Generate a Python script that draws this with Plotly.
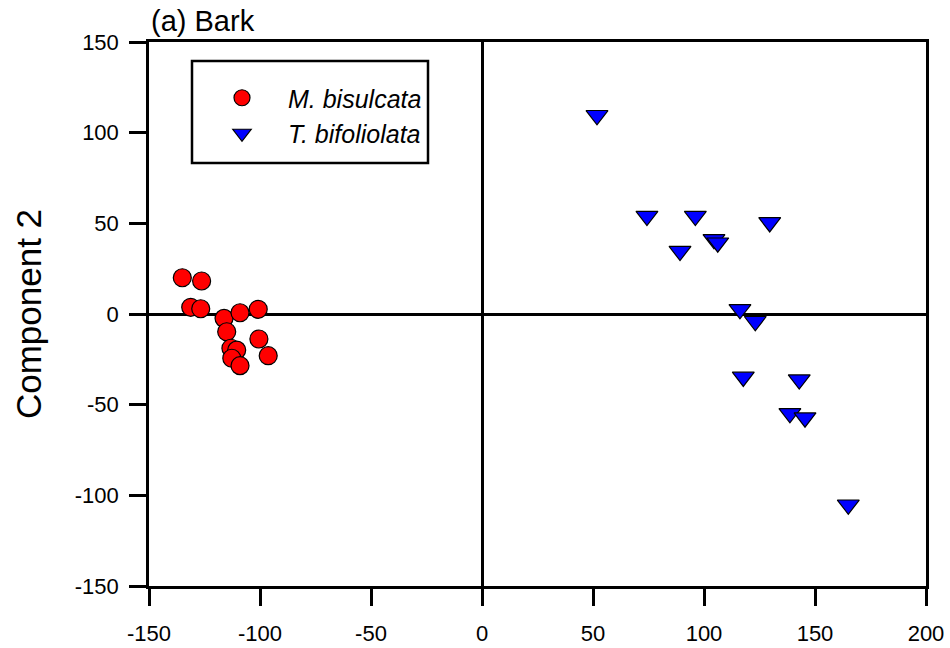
import plotly.graph_objects as go

# M. bisulcata (red circles)
mb_x = [-135.0, -126.3, -131.2, -126.7, -116.2, -109.0, -100.8, -115.0, -100.5, -113.1, -110.5, -112.7, -109.0, -96.3]
mb_y = [20.0, 18.2, 3.7, 2.9, -2.4, 0.7, 2.6, -9.8, -13.8, -18.9, -19.9, -24.4, -28.5, -23.0]

# T. bifoliolata (blue triangles)
tb_x = [51.8, 74.3, 96.1, 129.6, 104.5, 106.2, 89.2, 116.2, 123.1, 117.7, 142.9, 138.7, 145.5, 165.0]
tb_y = [109.6, 54.0, 54.0, 50.5, 41.2, 39.3, 34.7, 2.6, -4.0, -34.7, -36.2, -54.8, -57.2, -105.2]

x_ticks = [-150, -100, -50, 0, 50, 100, 150, 200]
x_labels = ["-150", "-100", "-50", "0", "50", "100", "150", "200"]
y_ticks = [-150, -100, -50, 0, 50, 100, 150]
y_labels = ["-150", "-100", "-50", "0", "50", "100", "150"]

FONT = "Liberation Sans, Arial, sans-serif"

fig = go.Figure()
fig.add_trace(go.Scatter(
    x=mb_x, y=mb_y, mode="markers", name="<i>M. bisulcata</i>",
    marker=dict(symbol="circle", size=18, color="#FF0000",
                line=dict(color="black", width=1.2)),
))
fig.add_trace(go.Scatter(
    x=tb_x, y=tb_y, mode="markers", name="<i>T. bifoliolata</i>",
    marker=dict(symbol="triangle-down", size=19, color="#0000FF",
                line=dict(color="black", width=1.2)),
))

axis_common = dict(
    showgrid=False, zeroline=True, zerolinecolor="black", zerolinewidth=2.5,
    showline=True, linecolor="black", linewidth=2.5, mirror=True,
    ticks="outside", ticklen=17, tickwidth=2.5, tickcolor="black",
    tickfont=dict(family=FONT, size=22, color="black"),
)

fig.update_xaxes(range=[-150, 200], tickvals=x_ticks, ticktext=x_labels,
                 ticklabelstandoff=9, **axis_common)
fig.update_yaxes(range=[-150, 150], tickvals=y_ticks, ticktext=y_labels,
                 ticklabelstandoff=6,
                 title=dict(text="Component 2", font=dict(family=FONT, size=35, color="black"),
                            standoff=23),
                 **axis_common)

fig.add_shape(type="rect", xref="paper", yref="paper",
              x0=(192 - 149) / 777, x1=(428 - 149) / 777,
              y0=(586 - 163) / 544, y1=(586 - 61) / 544,
              line=dict(color="black", width=2.5), fillcolor="rgba(0,0,0,0)")

fig.update_layout(
    width=950, height=648,
    margin=dict(l=149, r=24, t=42, b=62, autoexpand=False),
    plot_bgcolor="white", paper_bgcolor="white",
    font=dict(family=FONT, color="black"),
    showlegend=True,
    legend=dict(x=(196 - 149) / 777, y=(586 - 75) / 544, xanchor="left", yanchor="top",
                bgcolor="rgba(0,0,0,0)", borderwidth=0,
                font=dict(family=FONT, size=25, color="black"), itemwidth=82),
    annotations=[dict(text="(a) Bark", xref="paper", yref="paper", x=0, y=1,
                      xanchor="left", yanchor="bottom", yshift=3, showarrow=False,
                      font=dict(family=FONT, size=29, color="black"))],
)

fig.write_html("out.html", config={"displayModeBar": False},
               post_script="document.body.style.margin='0';")
